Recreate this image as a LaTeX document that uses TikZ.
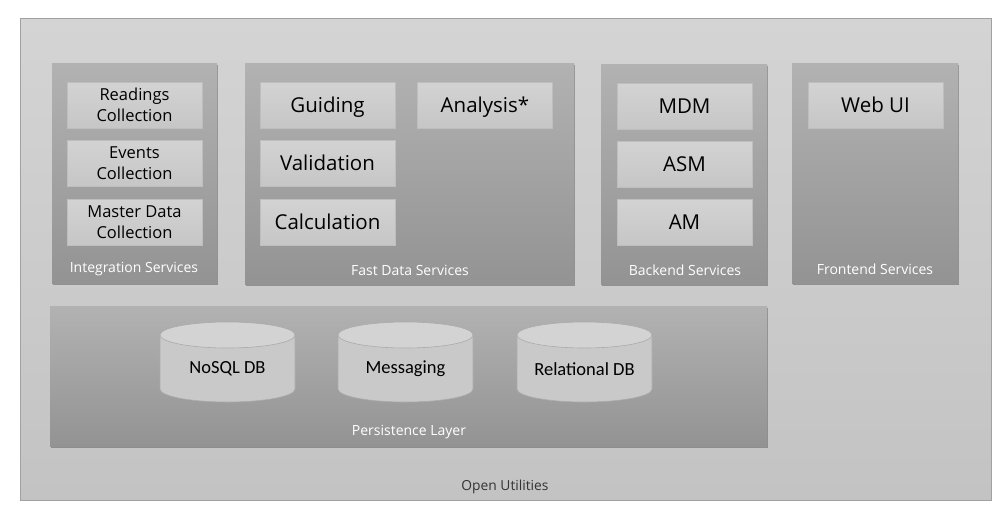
\documentclass[tikz,border=0pt]{standalone}
\usepackage{fontspec}
\setmainfont{Open Sans}
\newfontfamily\carlito{Carlito}
\usetikzlibrary{shadows}
\definecolor{outertop}{HTML}{D4D4D4}
\definecolor{outerbot}{HTML}{C3C3C3}
\definecolor{grouptop}{HTML}{B2B2B2}
\definecolor{groupbot}{HTML}{939393}
\definecolor{boxtop}{HTML}{D3D3D3}
\definecolor{boxbot}{HTML}{C6C6C6}
\definecolor{boxline}{HTML}{BEBEBE}
\definecolor{labelgray}{HTML}{333333}
\definecolor{storebody}{HTML}{C9C9C9}
\definecolor{storetop}{HTML}{D3D3D3}

\begin{document}
\begin{tikzpicture}[x=1pt,y=-1pt,
  group/.style={rectangle,inner sep=0pt,top color=grouptop,bottom color=groupbot,
    drop shadow={shadow xshift=1.2pt,shadow yshift=-2.2pt,opacity=.45,fill=black!70}},
  item/.style={rectangle,inner sep=0pt,minimum width=135pt,minimum height=46pt,
    top color=boxtop,bottom color=boxbot,draw=boxline,line width=.8pt,
    align=center,text=black},
  bigitem/.style={item,text depth=0pt,font=\fontsize{20.5}{24}\selectfont},
  smallitem/.style={item,font=\fontsize{16.5}{21.5}\selectfont},
  grouplabel/.style={text=white,font=\fontsize{14}{16}\selectfont,inner sep=0pt},
  storeline/.style={draw=black!33,line width=.6pt},
  storelabel/.style={inner sep=0pt,font=\carlito\fontsize{18.5}{22}\selectfont}]
  \useasboundingbox (0,0) rectangle (1007,520);
  \draw[draw=black!37,line width=.8pt,top color=outertop,bottom color=outerbot] (20,18) rectangle (991,500);
  \node[text=labelgray,font=\fontsize{13.8}{16}\selectfont,inner sep=0pt] (open) at (505,487) {Open Utilities};

  \node[group,minimum width=165pt,minimum height=220pt] (integration) at (134.5,173) {};
  \node[group,minimum width=329pt,minimum height=221pt] (fastdata) at (409.5,173.5) {};
  \node[group,minimum width=166pt,minimum height=220pt] (backend) at (684,174) {};
  \node[group,minimum width=166pt,minimum height=220pt] (frontend) at (875,173) {};
  \node[group,minimum width=717pt,minimum height=140pt] (persistence) at (408.5,376) {};

  \node[smallitem] (readings) at (134.5,105) {Readings\\Collection};
  \node[smallitem] (events) at (134.5,163) {Events\\Collection};
  \node[smallitem] (masterdata) at (134.5,222) {Master Data\\Collection};
  \node[grouplabel] (integrationlabel) at (134,269) {Integration Services};

  \node[bigitem] (guiding) at (327.5,105) {Guiding};
  \node[bigitem] (analysis) at (485,105) {Analysis*};
  \node[bigitem] (validation) at (327.5,163) {Validation};
  \node[bigitem] (calculation) at (327.5,222) {Calculation};
  \node[grouplabel] (fastdatalabel) at (410,270) {Fast Data Services};

  \node[bigitem] (mdm) at (684.5,106) {MDM};
  \node[bigitem] (asm) at (684.5,164) {ASM};
  \node[bigitem] (am) at (684.5,222) {AM};
  \node[grouplabel] (backendlabel) at (685,270) {Backend Services};

  \node[bigitem] (webui) at (875.5,105) {Web UI};
  \node[grouplabel] (frontendlabel) at (875,269) {Frontend Services};

  \foreach \cx in {227.5,405.5,584.5}{
    \filldraw[storeline,fill=storebody] (\cx-67.5,335) -- (\cx-67.5,389)
      arc[start angle=180,end angle=360,x radius=67.5pt,y radius=13pt] -- (\cx+67.5,335) -- cycle;
    \filldraw[storeline,fill=storetop] (\cx,335) ellipse[x radius=67.5pt,y radius=13pt];
  }
  \node[storelabel] (nosql) at (227.5,369) {NoSQL DB};
  \node[storelabel] (messaging) at (405.5,369) {Messaging};
  \node[storelabel] (relational) at (584.5,369) {Relational DB};
  \node[grouplabel] (persistencelabel) at (409,432) {Persistence Layer};
\end{tikzpicture}
\end{document}
